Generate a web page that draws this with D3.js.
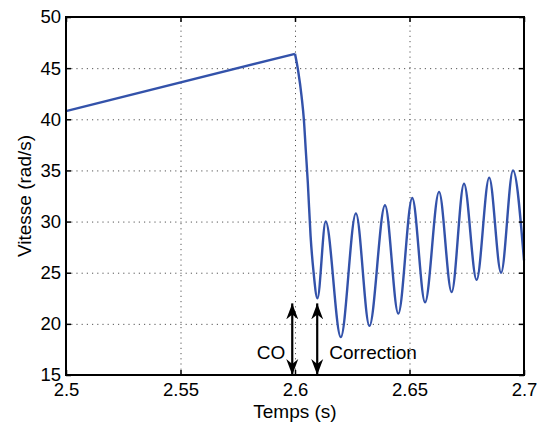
<!DOCTYPE html>
<html>
<head>
<meta charset="utf-8">
<script src="https://cdn.jsdelivr.net/npm/d3@7"></script>
<style>
  body { margin: 0; background: #fff; }
  text { font-family: "Liberation Sans", Arial, sans-serif; fill: #000; }
  .grid line { stroke: #555; stroke-dasharray: 1.2,4; stroke-width: 1; }
  .grid path { display: none; }
  .axis path { display: none; }
  .axis line { stroke: #000; stroke-width: 1.5; }
  .axis text { font-size: 18.5px; }
  .title_axis { font-size: 19px; }
</style>
</head>
<body>
<div id="chart"></div>
<script>

// straight ramp before the fault
var ramp_time = [2.5, 2.6];
var ramp_speed = [40.8, 46.4];

// speed drop and oscillation after the fault (peaks and troughs)
var osc_time = [2.6, 2.6014, 2.6029, 2.6039, 2.6047, 2.6056, 2.6068, 2.6080, 2.6098,
                2.6134, 2.6200, 2.6266, 2.6325, 2.6393, 2.6451, 2.6512, 2.6568,
                2.6629, 2.6684, 2.6738, 2.6793, 2.6848, 2.6900, 2.6952, 2.7];
var osc_speed = [46.4, 44.7, 42.2, 39.9, 37.0, 33.8, 28.6, 25.3, 22.5,
                 30.0, 18.7, 30.8, 19.8, 31.6, 21.0, 32.3, 22.1,
                 32.9, 23.1, 33.7, 24.3, 34.3, 25.0, 35.0, 26.2];

// tick values
var x_ticks = [2.5, 2.55, 2.6, 2.65, 2.7];
var y_ticks = [15, 20, 25, 30, 35, 40, 45, 50];

// annotation arrows
var arrow_labels = ["CO", "Correction"];
var arrow_time = [2.5988, 2.6097];
var arrow_range = [15, 22];

window.onload = function () {
  draw_chart();
};

function draw_chart(){

  var margin = {top: 17, right: 13, bottom: 51, left: 66};
  var width = 537 - margin.left - margin.right;
  var height = 426 - margin.top - margin.bottom;

  var svg = d3.select("#chart")
              .append("svg")
                .attr("width", 537)
                .attr("height", 426)
              .append("g")
                .attr("transform", "translate(" + margin.left + "," + margin.top + ")");

  var x_scale = d3.scaleLinear().domain([2.5, 2.7]).range([0, width]);
  var y_scale = d3.scaleLinear().domain([15, 50]).range([height, 0]);

  // dotted grid
  svg.append("g")
    .attr("class", "grid")
    .call(d3.axisLeft(y_scale).tickValues(y_ticks).tickSize(-width).tickFormat(""));
  svg.append("g")
    .attr("class", "grid")
    .attr("transform", "translate(0," + height + ")")
    .call(d3.axisBottom(x_scale).tickValues(x_ticks).tickSize(-height).tickFormat(""));

  // ramp line
  var line = d3.line()
      .x(function(d) { return x_scale(d[0]); })
      .y(function(d) { return y_scale(d[1]); });

  svg.append("path")
    .datum(d3.zip(ramp_time, ramp_speed))
    .attr("fill", "none")
    .attr("stroke", "#3352aa")
    .attr("stroke-width", 2.4)
    .attr("d", line);

  // oscillation, smooth through the extremes
  svg.append("path")
    .datum(d3.zip(osc_time, osc_speed))
    .attr("fill", "none")
    .attr("stroke", "#3352aa")
    .attr("stroke-width", 2.4)
    .attr("stroke-linejoin", "round")
    .attr("d", line.curve(d3.curveMonotoneX));

  // axes with inward ticks, on all four sides
  svg.append("g")
    .attr("class", "axis")
    .attr("transform", "translate(0," + height + ")")
    .call(d3.axisBottom(x_scale).tickValues(x_ticks).tickSize(-5).tickPadding(8)
      .tickFormat(function(d) { return String(+d.toFixed(2)); }));
  svg.append("g")
    .attr("class", "axis")
    .call(d3.axisLeft(y_scale).tickValues(y_ticks).tickSize(-5).tickPadding(5));
  svg.append("g")
    .attr("class", "axis")
    .call(d3.axisTop(x_scale).tickValues(x_ticks).tickSize(-5).tickFormat(""));
  svg.append("g")
    .attr("class", "axis")
    .attr("transform", "translate(" + width + ",0)")
    .call(d3.axisRight(y_scale).tickValues(y_ticks).tickSize(-5).tickFormat(""));

  // box
  svg.append("rect")
    .attr("width", width)
    .attr("height", height)
    .attr("fill", "none")
    .attr("stroke", "#000")
    .attr("stroke-width", 2);

  // arrow head marker
  var defs = d3.select("svg").append("defs");
  defs.append("marker")
      .attr("id", "head")
      .attr("viewBox", "-16 -7 17 14")
      .attr("refX", 0)
      .attr("refY", 0)
      .attr("markerWidth", 17)
      .attr("markerHeight", 14)
      .attr("markerUnits", "userSpaceOnUse")
      .attr("orient", "auto-start-reverse")
    .append("path")
      .attr("d", "M0,0 L-16,-6 L-11,0 L-16,6 Z")
      .attr("fill", "#000");

  svg.selectAll(".arrow")
    .data(arrow_time)
    .enter()
    .append("line")
      .attr("class", "arrow")
      .attr("x1", function(d) { return x_scale(d); })
      .attr("x2", function(d) { return x_scale(d); })
      .attr("y1", y_scale(arrow_range[1]))
      .attr("y2", y_scale(arrow_range[0]))
      .attr("stroke", "#000")
      .attr("stroke-width", 2.2)
      .attr("marker-start", "url(#head)")
      .attr("marker-end", "url(#head)");

  // arrow labels
  svg.selectAll(".arrow_label")
    .data(arrow_labels)
    .enter()
    .append("text")
      .attr("class", "title_axis")
      .attr("x", function(d, i) { return i == 0 ? x_scale(arrow_time[i]) - 7 : x_scale(arrow_time[i]) + 12; })
      .attr("y", y_scale(16.6))
      .attr("text-anchor", function(d, i) { return i == 0 ? "end" : "start"; })
      .text(function(d) { return d; });

  // x axis title
  svg.append("text")
    .attr("class", "title_axis")
    .attr("text-anchor", "middle")
    .attr("x", width / 2)
    .attr("y", height + 43)
    .text("Temps (s)");

  // y axis title
  svg.append("text")
    .attr("class", "title_axis")
    .attr("text-anchor", "middle")
    .attr("transform", "translate(" + (31 - margin.left) + "," + height / 2 + ") rotate(-90)")
    .text("Vitesse (rad/s)");
}

</script>
</body>
</html>
